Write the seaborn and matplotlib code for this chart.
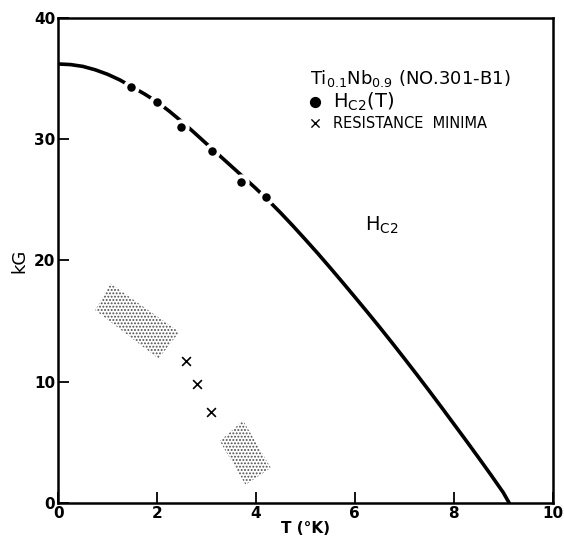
import numpy as np
import pandas as pd
import matplotlib
matplotlib.use("Agg")
import matplotlib.pyplot as plt
import seaborn as sns

# ---- data ----
curve_T = [0.0, 0.25, 0.5, 0.75, 1.0, 1.25, 1.5, 1.75, 2.0, 2.25, 2.5, 2.75, 3.0, 3.25,
           3.5, 3.75, 4.0, 4.25, 4.5, 4.75, 5.0, 5.25, 5.5, 5.75, 6.0, 6.25, 6.5, 6.75,
           7.0, 7.25, 7.5, 7.75, 8.0, 8.25, 8.5, 8.75, 9.0, 9.12]
curve_H = [36.2, 36.15, 36.0, 35.72, 35.35, 34.88, 34.3, 33.72, 33.08, 32.3, 31.45, 30.55,
           29.62, 28.7, 27.78, 26.86, 25.93, 24.95, 23.92, 22.84, 21.72, 20.58, 19.4, 18.2,
           16.98, 15.75, 14.5, 13.22, 11.92, 10.6, 9.26, 7.9, 6.52, 5.14, 3.74, 2.32, 0.86, 0.0]

hc2_T = [1.47, 2.0, 2.48, 3.12, 3.70, 4.20]
hc2_H = [34.3, 33.1, 31.0, 29.0, 26.5, 25.2]

rmin_T = [2.59, 2.81, 3.10]
rmin_H = [11.7, 9.8, 7.5]

patch1_T = [1.06, 0.75, 2.03, 2.45]
patch1_H = [18.1, 15.9, 11.9, 14.1]
patch2_T = [3.74, 3.27, 3.79, 4.30]
patch2_H = [6.8, 5.1, 1.5, 2.9]

x_ticks = [0, 2, 4, 6, 8, 10]
y_ticks = [0, 10, 20, 30, 40]

sns.set_style("white")
plt.rcParams['font.family'] = ['DejaVu Sans']
plt.rcParams['text.color'] = 'black'
plt.rcParams['xtick.color'] = 'black'
plt.rcParams['ytick.color'] = 'black'
plt.rcParams['axes.labelcolor'] = 'black'
plt.rcParams['hatch.linewidth'] = 0.9

fig = plt.figure(figsize=(5.64, 5.42), dpi=100)
ax = fig.add_axes([0.103, 0.072, 0.877, 0.895])

curve = pd.DataFrame({"T": curve_T, "H": curve_H})
sns.lineplot(data=curve, x="T", y="H", ax=ax, color="black", lw=2.6,
             sort=False, estimator=None, zorder=2)

for pt, ph in [(patch1_T, patch1_H), (patch2_T, patch2_H)]:
    ax.fill(pt, ph, facecolor="none", edgecolor="0.3", hatch=".....",
            linewidth=0, zorder=1)

dots = pd.DataFrame({"T": hc2_T, "H": hc2_H})
sns.scatterplot(data=dots, x="T", y="H", ax=ax, color="black", s=80,
                marker="o", edgecolor="white", linewidth=2.8, zorder=3)
crosses = pd.DataFrame({"T": rmin_T, "H": rmin_H})
sns.scatterplot(data=crosses, x="T", y="H", ax=ax, color="black", s=40,
                marker="x", linewidth=1.2, zorder=3)

ax.set_xlim(0, 10)
ax.set_ylim(0, 40)
ax.set_xticks(x_ticks)
ax.set_yticks(y_ticks)
ax.set_xticklabels([str(v) for v in x_ticks], fontsize=11, fontweight="bold")
ax.set_yticklabels([str(v) for v in y_ticks], fontsize=11, fontweight="bold")
ax.tick_params(axis="both", direction="in", length=8, width=1.3,
               bottom=True, left=True, top=False, right=False, pad=2)
for s in ax.spines.values():
    s.set_linewidth(1.8)
    s.set_color("black")

ax.set_xlabel("T (°K)", fontsize=11, fontweight="bold", labelpad=0)
ax.set_ylabel("kG", fontsize=13, labelpad=4)

# annotation / legend block
ax.text(5.1, 35.0, r"$\mathregular{Ti_{0.1}Nb_{0.9}}$ (NO.301-B1)", fontsize=13,
        va="center", ha="left")
ax.scatter([5.2], [33.1], s=50, color="black", marker="o")
ax.text(5.55, 33.1, r"$\mathregular{H_{C2}(T)}$", fontsize=14, va="center", ha="left")
ax.scatter([5.2], [31.3], s=35, color="black", marker="x", linewidth=1.0)
ax.text(5.55, 31.3, "RESISTANCE  MINIMA", fontsize=10.5, va="center", ha="left")

ax.text(6.2, 22.9, r"$\mathregular{H_{C2}}$", fontsize=14, va="center", ha="left")

fig.savefig("out.png", dpi=100)
